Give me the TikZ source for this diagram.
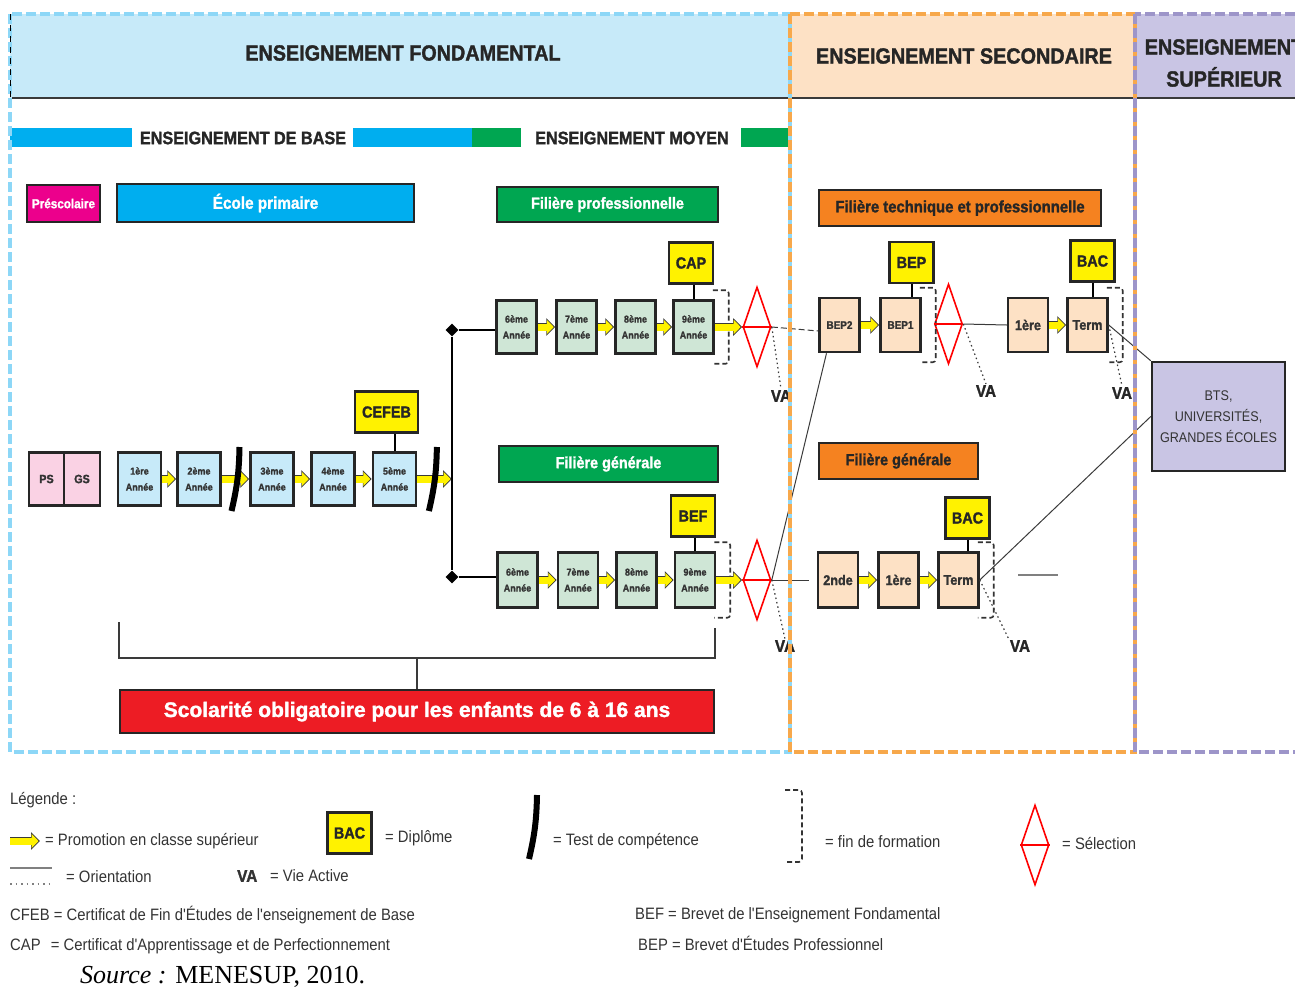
\documentclass[tikz,border=0pt]{standalone}
\usepackage{fontspec}
\setmainfont{Liberation Sans}
\newfontfamily\nar[FakeStretch=0.9, BoldFeatures={FakeBold=1.5}]{Liberation Sans}
\newfontfamily\larg[BoldFeatures={FakeBold=1.5}]{Liberation Sans}
\newfontfamily\srcfont{Liberation Serif}
\usetikzlibrary{arrows.meta,shapes.geometric,calc}
\definecolor{bleufond}{HTML}{8DD7F7}
\definecolor{bleuclair}{HTML}{C7EAF9}
\definecolor{orangesec}{HTML}{F7A84B}
\definecolor{orangeclair}{HTML}{FDE1C5}
\definecolor{violetsup}{HTML}{9D95C9}
\definecolor{violetclair}{HTML}{C9C5E4}
\definecolor{bleubase}{HTML}{00AEEF}
\definecolor{vertmoyen}{HTML}{00A651}
\definecolor{vertclair}{HTML}{CFE6D6}
\definecolor{roseclair}{HTML}{FAD2E4}
\definecolor{rosevif}{HTML}{EC008C}
\definecolor{jaune}{HTML}{FFF200}
\definecolor{rouge}{HTML}{ED1C24}
\definecolor{orangevif}{HTML}{F58220}
\definecolor{grisfonce}{HTML}{3A3A3A}
\newcommand\fsz[2]{\fontsize{#1}{#2}\selectfont}
\tikzstyle{entete}=[font=\nar\bfseries\fsz{22}{32}, text=black!85, align=center]
\tikzstyle{soustitre}=[font=\nar\bfseries\fsz{18}{20}, text=black!85]
\tikzstyle{titre}=[draw=black!85, line width=2.5pt, inner sep=0pt, font=\nar\bfseries\fsz{16}{18}, text=white]
\tikzstyle{annee}=[draw=black!85, line width=2.5pt, minimum width=40pt, minimum height=53pt, inner sep=0pt, align=center, font=\nar\bfseries\fsz{10}{16}, text=black!80]
\tikzstyle{diplome}=[draw=black!85, line width=2.5pt, fill=jaune, minimum width=44pt, minimum height=41pt, inner sep=0pt, font=\nar\bfseries\fsz{16}{18}, text=black!85]
\tikzstyle{selection}=[diamond, draw=red, line width=1.6pt, minimum width=28pt, minimum height=80pt, inner sep=0pt]
\tikzstyle{jonction}=[diamond, fill=black, minimum size=13pt, inner sep=0pt]
\tikzstyle{promobord}=[line width=8.5pt, grisfonce, -{Triangle[length=9pt,width=17pt]}]
\tikzstyle{promojaune}=[line width=7pt, jaune, -{Triangle[length=7pt,width=14pt]}, shorten >=1.5pt]
\tikzstyle{test}=[line width=6pt, black]
\tikzstyle{fin}=[line width=1.6pt, black!80, dash pattern=on 5pt off 3pt, rounded corners=3pt]
\tikzstyle{lien}=[line width=2pt, black]
\tikzstyle{tronc}=[line width=2.5pt, black]
\tikzstyle{orient}=[line width=1pt, grisfonce]
\tikzstyle{vieactive}=[line width=1.2pt, grisfonce, dash pattern=on 1.5pt off 3pt]
\tikzstyle{va}=[font=\nar\bfseries\fsz{17}{17}, text=black!85, inner sep=1pt]
\tikzstyle{accolade}=[line width=2pt, grisfonce]
\tikzstyle{cadre}=[line width=4.5pt, dash pattern=on 10pt off 4pt]
\tikzstyle{legende}=[anchor=west, font=\nar\fsz{16.5}{18}, text=black!80, inner sep=0pt]
\newcommand\promo[2]{\draw[promobord] (#1) -- (#2); \draw[promojaune] (#1) -- (#2);}
\newcommand\testmark[1]{\draw[test] ($(#1)+(4,-32)$) to[bend left=6] ($(#1)+(-4,32)$);}
\newcommand\finform[1]{\draw[fin] ([shift={(-2,-9)}]#1.north east) -- ([shift={(14,-9)}]#1.north east) -- ([shift={(14,9)}]#1.south east) -- ([shift={(-2,9)}]#1.south east);}

\begin{document}
\begin{tikzpicture}[x=1pt, y=-1pt]
\useasboundingbox (0,0) rectangle (1295,988);
% bandeaux
\fill[bleuclair] (10,14) rectangle (790,98);
\fill[orangeclair] (790,14) rectangle (1135,98);
\fill[violetclair] (1135,14) rectangle (1300,98);
\draw[grisfonce, line width=1.5pt] (12,98) -- (1295,98);
\node[entete] (fond) at (403,53) {ENSEIGNEMENT FONDAMENTAL};
\node[entete] (second) at (964,56) {ENSEIGNEMENT SECONDAIRE};
\node[entete] (sup) at (1224,63) {ENSEIGNEMENT\\SUPÉRIEUR};
% base et moyen
\fill[bleubase] (10,128) rectangle (132,147);
\node[soustitre] (base) at (243,138) {ENSEIGNEMENT DE BASE};
\fill[bleubase] (353,128) rectangle (472,147);
\fill[vertmoyen] (472,128) rectangle (521,147);
\node[soustitre] (moyen) at (632,138) {ENSEIGNEMENT MOYEN};
\fill[vertmoyen] (741,128) rectangle (788,147);
% titres des filieres
\node[titre, fill=rosevif, minimum width=73pt, minimum height=37pt, font=\nar\bfseries\fsz{13}{15}] (presco) at (63.5,203.5) {Préscolaire};
\node[titre, fill=bleubase, minimum width=297pt, minimum height=38pt, font=\nar\bfseries\fsz{17}{18}] (primaire) at (265.5,203) {École primaire};
\node[titre, fill=vertmoyen, minimum width=221pt, minimum height=35pt] (filpro) at (607.5,204.5) {Filière professionnelle};
\node[titre, fill=vertmoyen, minimum width=219pt, minimum height=36pt] (filgen) at (608.5,464) {Filière générale};
\node[titre, fill=orangevif, text=black!85, minimum width=282pt, minimum height=36pt, font=\nar\bfseries\fsz{16.5}{18}] (filtp) at (960,208) {Filière technique et professionnelle};
\node[titre, fill=orangevif, text=black!85, minimum width=159pt, minimum height=36pt] (filsg) at (898.5,461) {Filière générale};
% prescolaire et primaire
\node[annee, fill=roseclair, minimum width=35pt, font=\nar\bfseries\fsz{12}{14}] (ps) at (46.5,479) {PS};
\node[annee, fill=roseclair, minimum width=36pt, font=\nar\bfseries\fsz{12}{14}] (gs) at (82,479) {GS};
\node[annee, fill=bleuclair, minimum width=43pt] (p1) at (139.5,479) {1ère\\Année};
\node[annee, fill=bleuclair, minimum width=43pt] (p2) at (199,479) {2ème\\Année};
\node[annee, fill=bleuclair, minimum width=43pt] (p3) at (272,479) {3ème\\Année};
\node[annee, fill=bleuclair, minimum width=43pt] (p4) at (333,479) {4ème\\Année};
\node[annee, fill=bleuclair, minimum width=43pt] (p5) at (394.5,479) {5ème\\Année};
\node[diplome, minimum width=63pt] (cefeb) at (386.5,412) {CEFEB};
\coordinate (bran) at (452,479);
\coordinate (t1) at ($(p2.east)!0.5!(p3.west)$);
\coordinate (t2) at ($(p5.east)!0.45!(bran)$);
\draw[lien] (p5.north) -- (p5.north |- cefeb.south);
\promo{p1}{p2}
\promo{p2}{p3}
\promo{p3}{p4}
\promo{p4}{p5}
\promo{p5}{bran}
\testmark{t1}
\testmark{t2}
% orientation vers le moyen
\node[jonction] (jpro) at (452,330) {};
\node[jonction] (jgen) at (452,577) {};
\draw[tronc] (jpro) -- (jgen);
% filiere professionnelle (moyen)
\node[annee, fill=vertclair] (pro6) at (516.5,327) {6ème\\Année};
\node[annee, fill=vertclair] (pro7) at (576.5,327) {7ème\\Année};
\node[annee, fill=vertclair] (pro8) at (635.5,327) {8ème\\Année};
\node[annee, fill=vertclair] (pro9) at (693.5,327) {9ème\\Année};
\node[diplome] (cap) at (691,263) {CAP};
\node[selection] (selpro) at (757,327) {};
\draw[tronc] (jpro) -- (jpro -| pro6.west);
\draw[lien] (pro9.north) -- (pro9.north |- cap.south);
\finform{pro9}
\promo{pro6}{pro7}
\promo{pro7}{pro8}
\promo{pro8}{pro9}
\promo{pro9}{selpro}
\draw[red, line width=1.6pt] (selpro.west) -- (selpro.east);
% filiere generale (moyen)
\node[annee, fill=vertclair, minimum height=55pt] (gen6) at (517.5,580) {6ème\\Année};
\node[annee, fill=vertclair, minimum height=55pt] (gen7) at (578,580) {7ème\\Année};
\node[annee, fill=vertclair, minimum height=55pt] (gen8) at (636.5,580) {8ème\\Année};
\node[annee, fill=vertclair, minimum height=55pt] (gen9) at (695,580) {9ème\\Année};
\node[diplome] (bef) at (693,516) {BEF};
\node[selection] (selgen) at (757,580) {};
\draw[tronc] (jgen) -- (jgen -| gen6.west);
\draw[lien] (gen9.north) -- (gen9.north |- bef.south);
\finform{gen9}
\promo{gen6}{gen7}
\promo{gen7}{gen8}
\promo{gen8}{gen9}
\promo{gen9}{selgen}
\draw[red, line width=1.6pt] (selgen.west) -- (selgen.east);
% secondaire technique et professionnel
\node[annee, fill=orangeclair, minimum height=54pt, font=\nar\bfseries\fsz{11}{13}] (bep2) at (839.5,325) {BEP2};
\node[annee, fill=orangeclair, minimum height=54pt, font=\nar\bfseries\fsz{11}{13}] (bep1) at (900.5,325) {BEP1};
\node[diplome] (bep) at (911.5,262.5) {BEP};
\node[selection] (selbep) at (948.5,324) {};
\node[annee, fill=orangeclair, minimum height=54pt, font=\nar\bfseries\fsz{14}{16}] (prem1) at (1028,325) {1ère};
\node[annee, fill=orangeclair, minimum height=54pt, font=\nar\bfseries\fsz{14}{16}] (termp) at (1087.5,325) {Term};
\node[diplome] (bacp) at (1092.5,261) {BAC};
\draw[lien] (bep.south) -- (bep.south |- bep1.north);
\draw[lien] (bacp.south) -- (bacp.south |- termp.north);
\finform{bep1}
\finform{termp}
\promo{bep2}{bep1}
\promo{prem1}{termp}
\draw[red, line width=1.6pt] (selbep.west) -- (selbep.east);
% secondaire general
\node[annee, fill=orangeclair, minimum height=55pt, font=\nar\bfseries\fsz{14}{16}] (seconde) at (838,580) {2nde};
\node[annee, fill=orangeclair, minimum height=55pt, font=\nar\bfseries\fsz{14}{16}] (prem2) at (898.5,580) {1ère};
\node[annee, fill=orangeclair, minimum height=55pt, font=\nar\bfseries\fsz{14}{16}] (termg) at (958.5,580) {Term};
\node[diplome] (bacg) at (967.5,518) {BAC};
\draw[lien] (bacg.south) -- (bacg.south |- termg.north);
\finform{termg}
\promo{seconde}{prem2}
\promo{prem2}{termg}
% superieur
\node[draw=black!85, line width=2.5pt, fill=violetclair, minimum width=133pt, minimum height=109pt, align=center, font=\nar\fsz{14}{21}, text=black!80] (bts) at (1218.5,416.5) {BTS,\\UNIVERSITÉS,\\GRANDES ÉCOLES};
% orientations
\draw[orient, dash pattern=on 6pt off 3pt] (selpro.east) -- ([yshift=-6]bep2.west);
\draw[orient] (selgen.east) -- ([xshift=-13]bep2.south);
\draw[orient, shorten >=8pt] (selgen.east) -- (seconde.west);
\draw[orient] (selbep.east) -- (prem1.west);
\draw[orient] (termp.east) -- (bts.north west);
\draw[orient] (termg.east) -- (bts.west);
\coordinate (o1) at (1018,575);
\coordinate (o2) at (1058,575);
\draw[gray, line width=1.5pt] (o1) -- (o2);
% vie active
\node[va] (va1) at (781,396) {VA};
\node[va] (va2) at (785,646) {VA};
\node[va] (va3) at (986,391) {VA};
\node[va] (va4) at (1122,393) {VA};
\node[va] (va5) at (1020,646) {VA};
\draw[vieactive] (selpro.east) -- (va1.north);
\draw[vieactive] (selgen.east) -- (va2.north);
\draw[vieactive] (selbep.east) -- (va3.north);
\draw[vieactive] (termp.east) -- (va4.north);
\draw[vieactive] (termg.east) -- (va5.north west);
% scolarite obligatoire
\node[titre, fill=rouge, minimum width=594pt, minimum height=43pt, font=\larg\bfseries\fsz{21}{23}] (oblig) at (417,711.5) {Scolarité obligatoire pour les enfants de 6 à 16 ans};
\coordinate (ag) at (119,622);
\coordinate (ad) at (715,628);
\coordinate (am) at (417,658);
\draw[accolade] (ag) |- (am) -| (ad);
\draw[accolade] (am) -- (oblig.north);
% cadres
\draw[cadre, bleufond] (10,14) rectangle (790,752);
\draw[black, line width=1pt, dash pattern=on 6pt off 5pt] (10,14) -- (10,98);
\draw[cadre, orangesec] (790,14) rectangle (1135,752);
\draw[cadre, violetsup] (1135,14) rectangle (1310,752);
% legende
\node[legende] (leg) at (10,800) {Légende :};
\coordinate (lp1) at (10,841);
\coordinate (lp2) at (40,841);
\promo{lp1}{lp2}
\node[legende] (lpromo) at (45,841) {= Promotion en classe supérieur};
\node[diplome] (lbac) at (349.5,833) {BAC};
\node[legende] (ldipl) at (385,838) {= Diplôme};
\coordinate (lt) at (533,827);
\testmark{lt}
\node[legende] (ltest) at (553,841) {= Test de compétence};
\coordinate (lf) at (785,790);
\draw[fin] (lf) -| (802,862) -- (785,862);
\node[legende] (lfin) at (825,842) {= fin de formation};
\node[selection] (lsel) at (1035,845) {};
\draw[red, line width=1.6pt] (lsel.west) -- (lsel.east);
\node[legende] (lselt) at (1062,843) {= Sélection};
\coordinate (lo1) at (10,868);
\coordinate (lo2) at (52,868);
\coordinate (lo3) at (10,884);
\coordinate (lo4) at (52,884);
\draw[gray, line width=2pt] (lo1) -- (lo2);
\draw[gray, line width=1.2pt, dash pattern=on 1.5pt off 4pt] (lo3) -- (lo4);
\node[legende] (lorient) at (66,877) {= Orientation};
\node[legende, font=\nar\bfseries\fsz{17}{18}] (lva) at (237,876) {VA};
\node[legende] (lvat) at (270,876) {= Vie Active};
\node[legende] (lcfeb) at (10,915) {CFEB = Certificat de Fin d'Études de l'enseignement de Base};
\node[legende] (lcap) at (10,946) {CAP\hspace{6pt} = Certificat d'Apprentissage et de Perfectionnement};
\node[legende] (lbef) at (635,915) {BEF = Brevet de l'Enseignement Fondamental};
\node[legende] (lbep) at (638,943) {BEP = Brevet d'Études Professionnel};
\node[anchor=west, inner sep=0pt, font=\srcfont\fsz{26}{28}] (source) at (80,977) {\textit{Source :} MENESUP, 2010.};
\end{tikzpicture}
\end{document}
